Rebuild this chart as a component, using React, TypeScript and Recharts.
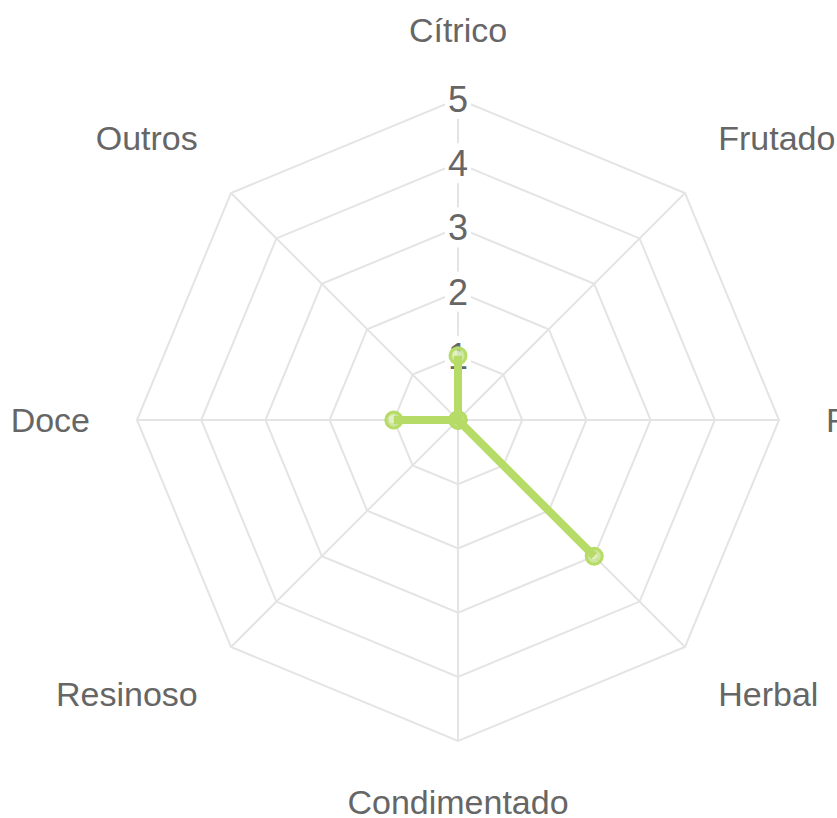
import { RadarChart, Radar, PolarGrid, PolarAngleAxis, PolarRadiusAxis } from "recharts";

const AROMAS = ["Cítrico", "Frutado", "Floral", "Herbal", "Condimentado", "Resinoso", "Doce", "Outros"];
const INTENSIDADE = [1, 0, 0, 3, 0, 0, 1, 0];
const RADIUS_TICKS = [0, 1, 2, 3, 4, 5];

const data = AROMAS.map((name, i) => ({ name, value: INTENSIDADE[i] }));

const CX = 458;
const CY = 420;
const FONT = "'Liberation Sans', Arial, Helvetica, sans-serif";
const GREEN = "#b6db66";

function AngleTick(props: any) {
  const angle = props.payload.coordinate;
  const rad = (angle * Math.PI) / 180;
  const r = 368;
  const px = CX + r * Math.cos(rad);
  const py = CY - r * Math.sin(rad);
  const c = Math.cos(rad);
  const s = Math.sin(rad);
  const anchor = Math.abs(c) < 0.01 ? "middle" : c > 0 ? "start" : "end";
  const y = s > 0.01 ? py - 10 : s < -0.01 ? py + 26 : py + 12;
  return (
    <text x={px} y={y} textAnchor={anchor} fill="#666" fontSize={34} fontFamily={FONT}>
      {props.payload.value}
    </text>
  );
}

function RadiusTick(props: any) {
  const { x, y, payload } = props;
  if (payload.value === 0) return <g />;
  return (
    <g>
      <rect x={x - 13} y={y - 20} width={26} height={40} fill="#fff" />
      <text x={x} y={y + 13} textAnchor="middle" fill="#666" fontSize={36} fontFamily={FONT}>
        {payload.value}
      </text>
    </g>
  );
}

function Dot(props: any) {
  const { cx, cy, index } = props;
  return (
    <g key={`dot-${index}`}>
      <circle cx={cx} cy={cy} r={8} fill="rgba(190,224,125,0.75)" stroke={GREEN} strokeWidth={3} />
      <circle cx={cx - 1} cy={cy - 1} r={4} fill="rgba(235,245,215,0.7)" />
    </g>
  );
}

export default function App() {
  return (
    <div style={{ position: "absolute", left: 0, top: 0, width: 837, height: 818, overflow: "hidden", background: "#fff" }}>
      <RadarChart width={837} height={818} data={data} cx={CX} cy={CY} outerRadius={321}>
        <PolarGrid gridType="polygon" stroke="#e4e4e4" strokeWidth={2} />
        <PolarAngleAxis dataKey="name" tick={AngleTick} axisLine={false} tickLine={false} />
        <PolarRadiusAxis
          angle={90}
          domain={[0, 5]}
          ticks={RADIUS_TICKS as any}
          tickCount={6}
          axisLine={false}
          tick={RadiusTick}
          {...({ zIndex: 50 } as any)}
        />
        <Radar
          dataKey="value"
          stroke={GREEN}
          strokeWidth={8}
          fill="none"
          fillOpacity={0}
          dot={Dot}
          isAnimationActive={false}
          {...({ zIndex: 900 } as any)}
        />
      </RadarChart>
    </div>
  );
}
